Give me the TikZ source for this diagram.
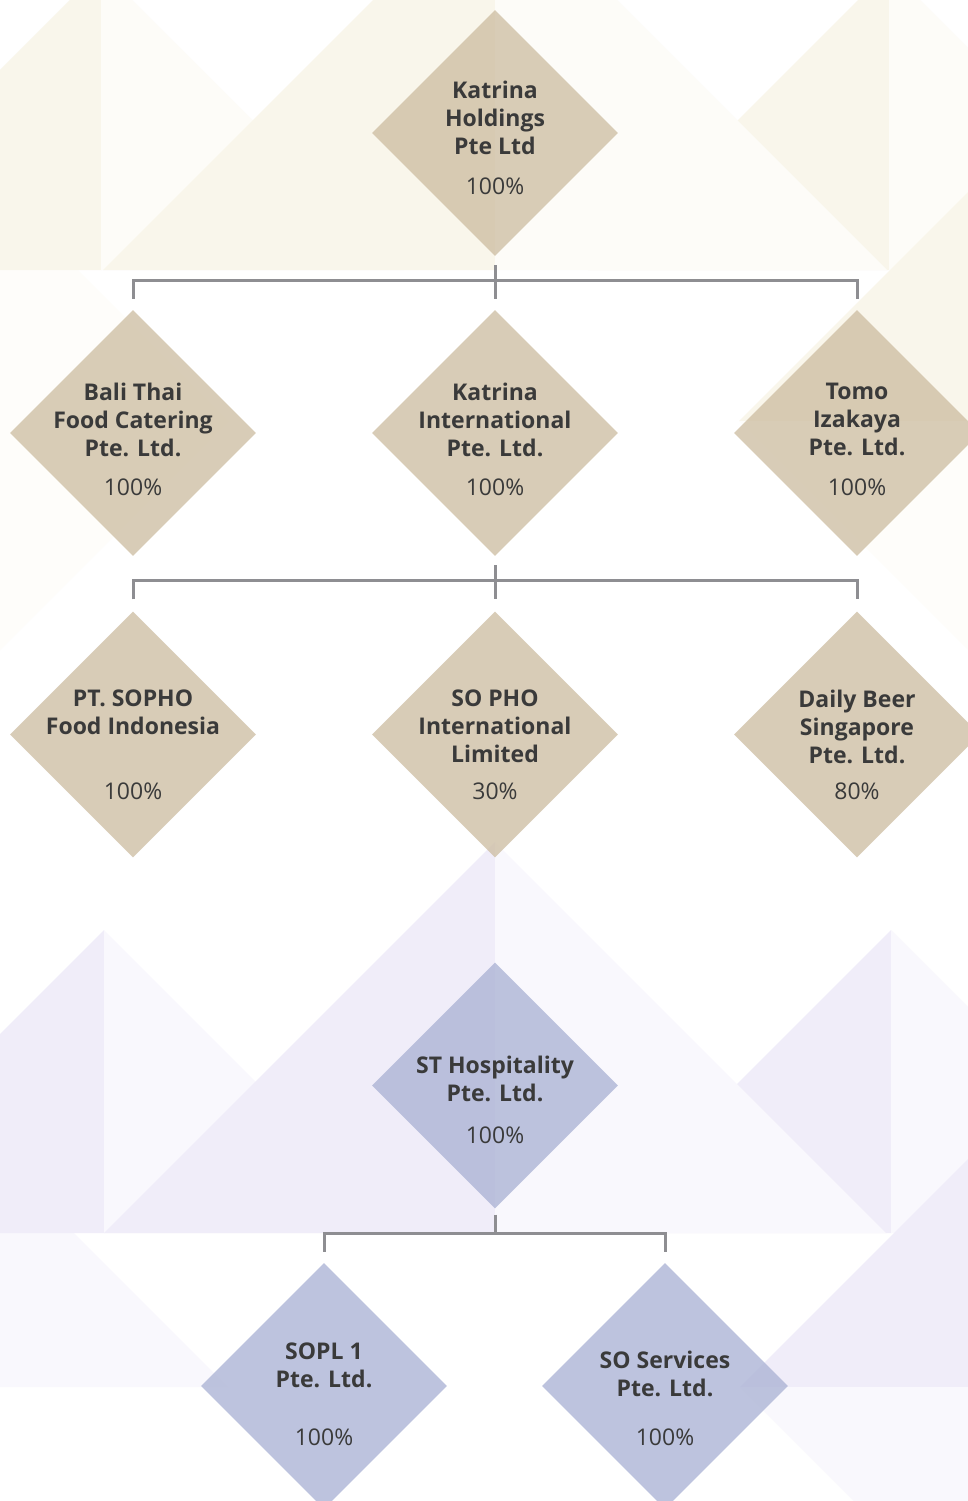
\documentclass[tikz,border=0pt]{standalone}
\usepackage{fontspec}
\setmainfont{Open Sans}
\usepackage{tikz}
\usetikzlibrary{shapes.geometric, positioning, calc}

\definecolor{stone}{HTML}{CCBCA0}
\definecolor{lilacfill}{HTML}{A8B0D3}
\definecolor{ink}{HTML}{3A3A3A}
\definecolor{linegray}{HTML}{8E8E92}
\definecolor{creamdark}{HTML}{F9F6EB}
\definecolor{creamlight}{HTML}{FDFCF8}
\definecolor{creamfaint}{HTML}{FEFDFA}
\definecolor{lavdark}{HTML}{F0EDF9}
\definecolor{lavlight}{HTML}{F9F8FD}

\begin{document}
\begin{tikzpicture}[
    x=1pt, y=-1pt,
    unit/.style={diamond, minimum width=246pt, minimum height=246pt, inner sep=0pt, fill opacity=0.75},
    sand/.style={unit, fill=stone},
    lilac/.style={unit, fill=lilacfill},
    firm/.style={anchor=north, align=center, inner sep=0pt, text=ink, font=\fontsize{23}{28}\selectfont\bfseries},
    share/.style={anchor=base, inner sep=0pt, text=ink, font=\fontsize{23}{28}\selectfont},
    link/.style={draw=linegray, line width=3pt}
]
\clip (0,0) rectangle (968,1501);
\fill[white] (0,0) rectangle (968,1501);

% BACKGROUND: CREAM TRIANGLES
\fill[creamfaint] (229,421) -- (-232,-40) -- (-232,882) -- cycle;
\fill[creamdark] (101,-31) -- (-200,270) -- (101,270) -- cycle;
\fill[creamlight] (101,-31) -- (403,270) -- (101,270) -- cycle;
\fill[creamdark] (889,-31) -- (588,270) -- (889,270) -- cycle;
\fill[creamlight] (889,-31) -- (1190,270) -- (889,270) -- cycle;
\fill[creamdark] (739,421) -- (1200,-40) -- (1200,421) -- cycle;
\fill[creamfaint] (739,421) -- (1200,421) -- (1200,882) -- cycle;
\fill[creamdark] (495,-122) -- (103,270) -- (495,270) -- cycle;
\fill[creamlight] (495,-122) -- (887,270) -- (495,270) -- cycle;

% BACKGROUND: LAVENDER TRIANGLES
\fill[lavlight] (228,1387) -- (-232,927) -- (-232,1387) -- cycle;
\fill[lavdark] (104,930) -- (-199,1233) -- (104,1233) -- cycle;
\fill[lavlight] (104,930) -- (407,1233) -- (104,1233) -- cycle;
\fill[lavdark] (891,930) -- (588,1233) -- (891,1233) -- cycle;
\fill[lavlight] (891,930) -- (1194,1233) -- (891,1233) -- cycle;
\fill[lavdark] (740,1387) -- (1200,927) -- (1200,1387) -- cycle;
\fill[lavlight] (740,1387) -- (1200,1387) -- (1200,1847) -- cycle;
\fill[lavdark] (495,842) -- (104,1233) -- (495,1233) -- cycle;
\fill[lavlight] (495,842) -- (886,1233) -- (495,1233) -- cycle;

% TIER 1: HOLDING
\node[sand] (kh) at (495,133) {};
\node[firm] (khname) at (495,81) {Katrina\\Holdings\\Pte Ltd};
\node[share] (khpct) at (495,194) {100\%};

% TIER 2
\node[sand] (bt) at (133,433) {};
\node[firm] (btname) at (133,383) {Bali Thai\\Food Catering\\Pte. Ltd.};
\node[share] (btpct) at (133,495) {100\%};

\node[sand] (ki) at (495,433) {};
\node[firm] (kiname) at (495,383) {Katrina\\International\\Pte. Ltd.};
\node[share] (kipct) at (495,495) {100\%};

\node[sand] (tomo) at (857,433) {};
\node[firm] (tomoname) at (857,383) {Tomo\\Izakaya\\Pte. Ltd.};
\node[share] (tomopct) at (857,495) {100\%};

% TIER 3
\node[sand] (sopho) at (133,734.5) {};
\node[firm] (sophoname) at (133,690) {PT. SOPHO\\Food Indonesia};
\node[share] (sophopct) at (133,799) {100\%};

\node[sand] (sopi) at (495,734.5) {};
\node[firm] (sopiname) at (495,690) {SO PHO\\International\\Limited};
\node[share] (sopipct) at (495,799) {30\%};

\node[sand] (beer) at (857,734.5) {};
\node[firm] (beername) at (857,690) {Daily Beer\\Singapore\\Pte. Ltd.};
\node[share] (beerpct) at (857,799) {80\%};

% TIER 4: ST HOSPITALITY
\node[lilac] (st) at (495,1085.5) {};
\node[firm] (stname) at (495,1056) {ST Hospitality\\Pte. Ltd.};
\node[share] (stpct) at (495,1143) {100\%};

\node[lilac] (sopl) at (324,1386) {};
\node[firm] (soplname) at (324,1343) {SOPL 1\\Pte. Ltd.};
\node[share] (soplpct) at (324,1445) {100\%};

\node[lilac] (sos) at (665,1386) {};
\node[firm] (sosname) at (665,1351) {SO Services\\Pte. Ltd.};
\node[share] (sospct) at (665,1445) {100\%};

% Connections
\draw[link] ([yshift=-9pt]kh.south) -- ([yshift=11pt]ki.north);
\draw[link] ([yshift=11pt]bt.north) |- ([yshift=29pt]ki.north) -| ([yshift=11pt]tomo.north);

\draw[link] ([yshift=-9pt]ki.south) -- ([yshift=12pt]sopi.north);
\draw[link] ([yshift=12pt]sopho.north) |- ([yshift=31pt]sopi.north) -| ([yshift=12pt]beer.north);

\coordinate (stjoin) at (495,1233);
\draw[link] ([yshift=-6pt]st.south) -- (stjoin);
\draw[link] ([yshift=11pt]sopl.north) |- (stjoin) -| ([yshift=11pt]sos.north);

\end{tikzpicture}
\end{document}
